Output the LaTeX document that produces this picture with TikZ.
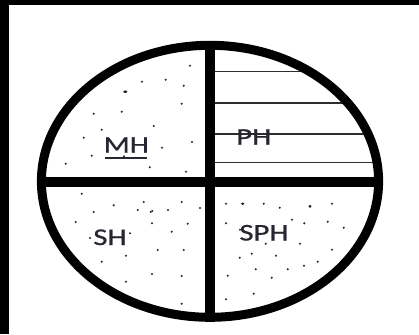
\documentclass[tikz,border=0pt]{standalone}
\usepackage{fontspec}
\setmainfont{Carlito}
\newfontfamily\labelfont[FakeBold=0.6]{Carlito}
\definecolor{txt}{RGB}{38,38,48}
\definecolor{hatch}{RGB}{45,45,45}
\definecolor{dotc}{RGB}{35,35,35}
\begin{document}
\begin{tikzpicture}[x=1pt,y=-1pt,
  label/.style={font=\labelfont\fontsize{24}{24}\selectfont, text=txt, inner sep=0pt, xscale=1.28, anchor=center},
  thick line/.style={line width=9pt, black},
  divider/.style={line width=10pt, black},
  hatchline/.style={line width=1.6pt, hatch},
  dotmark/.style={fill=dotc}]
\useasboundingbox (0,0) rectangle (419,334);
\fill[white] (0,0) rectangle (419,334);
% black frame strips (top and left)
\fill[black] (0,0) rectangle (419,5);
\fill[black] (0,0) rectangle (8.7,334);
% hatching in PH quadrant
\begin{scope}
  \clip (210,181.3) ellipse [x radius=168.6, y radius=136];
  \foreach \yy in {71.7,103,133.7,162.3}
    \draw[hatchline] (210,\yy) -- (390,\yy);
\end{scope}
% dots
\foreach \px/\py in {
 190/65.7, 142/81.7, 165.7/79.7, 183.7/85.7, 125.3/91.7, 181.7/103.7, 93.7/113.7, 121.7/111.7,
 153.7/126, 101.7/129.7, 83.7/137.7, 192/142, 162/147.7, 91.7/155.7, 124/156.3, 65.7/163.7,
 149.7/167.3, 186/171.7,
 81.7/193.7, 113.7/205.3, 143.7/202, 93.7/212, 137.7/210, 152.3/211, 150.7/212, 168/210,
 181.7/202, 200/208, 75.7/222, 152/223.3, 171.7/231.7, 187.7/223.7, 130/233.3, 90/238,
 157.7/250, 183.7/250, 126/255.7, 101.7/261.7, 152/274, 181.7/276, 126/281.7, 181.7/303.7,
 226/203.7, 242.7/203.7, 263.7/203.7, 279.7/207.7, 310/206.3, 332/203.7, 226/223.3, 292/219.7,
 304.3/223.3, 327.7/221.7, 343.7/227.7, 240/229.7, 272.7/236.7, 265.7/243.7, 300/243.7,
 332/249.7, 251.7/253.7, 239.7/257.7, 276/255.7, 317.7/261.7, 255.7/269.3, 287.7/269.3,
 304/265.7, 227.7/275.7, 271.7/277.7, 253.7/293.7, 226/299.3}
  \fill[dotmark] (\px,\py) circle (1.15);
\fill[dotmark] (125.3,91.7) ellipse [x radius=2, y radius=1.2];
\fill[dotmark] (310,206.3) circle (1.5);
\fill[dotmark] (242.7,203.7) ellipse [x radius=1.8, y radius=1.2];
% labels
\node[label] (mh) at (126.3,145) {MH};
\node[label] (ph) at (253.8,137) {PH};
\node[label] (sh) at (110,237.3) {SH};
\node[label] (sph) at (264,232.8) {SPH};
\coordinate (ulA) at (105,157.5);
\coordinate (ulB) at (147.3,157.5);
\draw[line width=2pt, txt] (ulA) -- (ulB);
% dividers
\coordinate (top) at (210,45.3);
\coordinate (bot) at (210,317.3);
\coordinate (lft) at (41.4,181.7);
\coordinate (rgt) at (378.6,181.7);
\draw[divider] (top) -- (bot);
\draw[divider] (lft) -- (rgt);
% ellipse outline
\draw[thick line] (210,181.3) ellipse [x radius=168.6, y radius=136];
\end{tikzpicture}
\end{document}
